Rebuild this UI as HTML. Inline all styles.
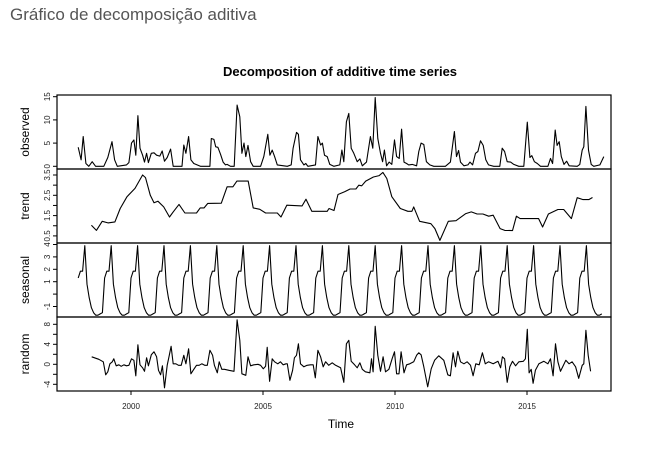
<!DOCTYPE html>
<html><head><meta charset="utf-8"><style>
body{margin:0;background:#fff;width:650px;height:456px;overflow:hidden}
.hdr{position:absolute;left:10px;top:5px;font-family:"Liberation Sans",sans-serif;font-size:17px;color:#555}
svg{position:absolute;left:0;top:0}
svg text{font-family:"Liberation Sans",sans-serif}
</style></head><body>
<div class="hdr">Gráfico de decomposição aditiva</div>
<svg id="chart" width="650" height="456"></svg>
<script>
const obsT=[1998.00,1998.11,1998.19,1998.29,1998.40,1998.53,1998.66,1998.97,1999.12,1999.28,1999.38,1999.48,1999.83,1999.92,2000.02,2000.11,2000.18,2000.26,2000.34,2000.44,2000.51,2000.59,2000.66,2000.77,2000.87,2000.97,2001.09,2001.18,2001.27,2001.37,2001.50,2001.60,2001.93,2002.00,2002.08,2002.18,2002.27,2002.38,2002.63,2002.99,2003.04,2003.14,2003.21,2003.29,2003.39,2003.49,2003.58,2003.64,2003.77,2003.91,2004.02,2004.12,2004.20,2004.28,2004.35,2004.43,2004.53,2004.63,2004.91,2005.03,2005.18,2005.26,2005.35,2005.44,2005.54,2005.92,2006.07,2006.14,2006.27,2006.34,2006.42,2006.55,2006.62,2006.70,2006.99,2007.08,2007.18,2007.25,2007.33,2007.43,2007.53,2007.68,2007.91,2007.99,2008.06,2008.16,2008.25,2008.34,2008.44,2008.57,2008.67,2008.76,2008.92,2009.07,2009.16,2009.25,2009.35,2009.45,2009.53,2009.60,2009.68,2009.78,2009.88,2009.98,2010.06,2010.16,2010.25,2010.34,2010.44,2010.52,2010.65,2010.82,2010.90,2010.99,2011.09,2011.19,2011.32,2011.47,2011.91,2012.10,2012.25,2012.33,2012.41,2012.48,2012.61,2012.76,2012.84,2012.94,2013.05,2013.14,2013.24,2013.34,2013.44,2013.54,2013.74,2013.97,2014.06,2014.15,2014.25,2014.38,2014.50,2014.69,2014.88,2015.01,2015.11,2015.18,2015.28,2015.39,2015.51,2015.79,2015.89,2015.97,2016.07,2016.14,2016.22,2016.30,2016.40,2016.50,2016.60,2016.90,2017.00,2017.09,2017.15,2017.23,2017.33,2017.43,2017.53,2017.76,2017.91];
const obsV=[4.1,1.4,6.4,0.6,0,1.0,0,0,1.9,5.3,1.4,0,0.3,0.8,5.0,5.7,2.4,10.9,3.9,2.4,0.9,2.8,0.8,2.8,2.9,2.4,2.2,3.3,1.1,1.9,3.7,0,0,4.6,2.8,6.4,1.4,0.6,0,0,6.0,5.8,4.2,4.1,2.6,0.9,0.3,0.4,0,0,13.2,10.7,2.8,5.0,2.1,4.5,1.0,0,0,2.1,6.9,2.4,3.5,2.1,0.3,0,0.3,3.9,7.3,6.9,1.4,0.3,0.6,0,0.3,6.4,4.6,5.0,2.4,2.1,0.4,0,0.3,3.5,1.0,9.6,11.4,3.9,2.8,1.0,1.6,0.1,0.9,6.4,3.9,14.8,6.0,2.8,1.0,3.5,0.1,0.9,0.4,5.7,2.1,1.7,8.0,0.9,0.6,0.3,0.4,0.1,3.2,5.0,4.7,1.0,0.3,0,0,0.9,7.5,2.1,3.4,0.9,0.1,0.3,0.9,0.3,2.8,3.2,5.5,4.5,1.4,0.3,0,0,3.9,3.2,1.0,0.9,0.4,0,0,9.5,1.9,2.3,1.0,0.6,0,0,1.7,0.6,7.8,4.5,5.3,2.1,0.4,1.1,0.1,0,0.4,3.5,4.2,12.9,3.5,0.4,0,0.3,2.1];
const trendT=[1998.50,1998.69,1998.91,1999.13,1999.39,1999.59,1999.85,2000.15,2000.44,2000.55,2000.73,2000.87,2001.02,2001.24,2001.46,2001.60,2001.82,2002.04,2002.48,2002.62,2002.77,2002.91,2003.42,2003.64,2003.86,2004.01,2004.44,2004.63,2004.88,2005.10,2005.54,2005.68,2005.90,2006.48,2006.63,2006.85,2007.43,2007.50,2007.69,2007.84,2008.09,2008.30,2008.52,2008.63,2008.74,2008.89,2009.18,2009.40,2009.54,2009.69,2009.88,2010.20,2010.49,2010.64,2010.71,2010.93,2011.36,2011.51,2011.70,2012.02,2012.31,2012.68,2012.89,2013.11,2013.33,2013.55,2013.72,2013.98,2014.16,2014.45,2014.60,2014.74,2015.44,2015.59,2015.81,2016.17,2016.39,2016.68,2016.90,2017.12,2017.34,2017.48];
const trendV=[1.02,0.77,1.22,1.14,1.19,1.85,2.43,2.84,3.5,3.37,2.5,2.13,2.21,1.93,1.43,1.68,2.05,1.63,1.63,1.88,1.88,2.1,2.11,2.92,2.92,3.2,3.2,1.88,1.81,1.63,1.63,1.43,2.01,1.98,2.31,1.71,1.71,1.85,1.75,2.54,2.67,2.81,2.81,3.0,2.97,3.2,3.4,3.47,3.63,3.33,2.43,1.85,1.71,1.71,1.93,1.22,1.1,0.86,0.28,1.22,1.25,1.6,1.68,1.58,1.58,1.47,1.52,0.86,0.77,0.76,1.47,1.35,1.35,0.94,1.58,1.8,1.8,1.35,2.38,2.29,2.29,2.39];
const seasonalPattern=[1.3,1.85,1.85,3.9,0.8,-0.3,-1.1,-1.5,-1.7,-1.7,-1.6,-1.5];
const seasonStart=1998, seasonMonths=239;
const randT=[1998.51,1998.78,1998.95,1999.04,1999.12,1999.20,1999.29,1999.35,1999.44,1999.54,1999.63,1999.73,1999.83,1999.92,2000.02,2000.11,2000.18,2000.26,2000.34,2000.44,2000.51,2000.59,2000.66,2000.77,2000.87,2000.97,2001.04,2001.12,2001.19,2001.27,2001.37,2001.45,2001.52,2001.60,2001.70,2001.80,2001.90,2002.00,2002.08,2002.18,2002.27,2002.38,2002.48,2002.58,2002.68,2002.79,2002.89,2002.99,2003.09,2003.16,2003.27,2003.34,2003.44,2003.54,2003.71,2003.90,2004.02,2004.12,2004.20,2004.35,2004.43,2004.53,2004.65,2004.81,2004.91,2005.01,2005.10,2005.16,2005.25,2005.35,2005.44,2005.56,2005.66,2005.76,2005.87,2005.92,2006.02,2006.12,2006.19,2006.27,2006.34,2006.42,2006.55,2006.67,2006.80,2006.90,2006.98,2007.08,2007.18,2007.28,2007.37,2007.49,2007.62,2007.75,2007.94,2008.06,2008.16,2008.25,2008.34,2008.47,2008.57,2008.67,2008.76,2008.88,2009.05,2009.11,2009.17,2009.25,2009.35,2009.45,2009.55,2009.64,2009.77,2009.89,2009.98,2010.06,2010.15,2010.23,2010.34,2010.44,2010.56,2010.71,2010.82,2010.90,2010.99,2011.09,2011.24,2011.37,2011.50,2011.66,2011.85,2012.00,2012.10,2012.20,2012.29,2012.38,2012.48,2012.61,2012.73,2012.86,2012.96,2013.06,2013.19,2013.31,2013.42,2013.54,2013.72,2013.90,2014.00,2014.07,2014.15,2014.25,2014.35,2014.45,2014.57,2014.69,2014.86,2014.94,2015.01,2015.08,2015.16,2015.23,2015.32,2015.45,2015.64,2015.79,2015.89,2015.99,2016.08,2016.17,2016.27,2016.37,2016.47,2016.59,2016.71,2016.84,2016.96,2017.09,2017.15,2017.23,2017.32,2017.41];
const randV=[1.5,1.0,0.5,-2.1,-1.5,0.1,0.5,1.1,-0.3,-0.1,-0.4,-0.1,-0.3,-0.2,1.1,0.8,-2.3,3.9,-0.1,-0.7,-1.4,1.3,-0.3,1.9,2.5,1.5,-1.2,-2.1,-0.3,-4.7,-0.2,1.8,3.6,0.1,0.1,-0.2,-0.2,1.8,0.1,3.1,-1.9,-1.0,-0.2,-0.2,0.1,-0.2,-0.2,2.8,1.8,-0.2,-1.7,0.5,-1.0,-1.0,-1.2,-1.4,8.9,4.8,-1.9,-2.2,1.5,-0.3,-0.1,0,-0.2,-0.9,-0.4,3.4,-3.4,1.1,0.5,0.1,0.5,-0.1,0.1,0.1,-3.2,-1.2,1.3,1.8,4.1,0.1,-0.5,-0.2,-0.1,-0.1,-2.7,2.8,1.5,-0.5,0.5,-0.2,0.3,-0.2,-0.7,-3.6,4.1,4.8,0.6,-0.1,-0.7,0.3,-1.0,-1.5,-1.7,1.1,-1.5,7.6,1.8,-1.4,1.5,-1.5,-1.0,1.1,2.5,-1.9,-1.9,2.5,-1.7,-0.1,0.1,0.5,1.8,2.3,1.9,-0.5,-4.5,-0.9,0.8,1.7,0.8,-2.1,-2.3,2.3,-0.5,2.6,0.5,0.1,0.5,-0.2,-2.3,0.1,-0.1,2.3,0.1,0.5,0.1,0.6,-0.7,1.5,1.1,-3.6,-0.5,0.6,-0.3,0.5,0.6,1.1,7.0,-1.7,-1.0,-3.8,-1.2,0.1,0.6,0.1,1.1,-2.3,4.1,0.5,-1.4,-0.3,0.8,0.1,0.5,-0.5,-2.8,-0.2,0.1,6.8,1.8,-1.4];
const xTicks=[2000,2005,2010,2015];

const NS='http://www.w3.org/2000/svg';
const svg=document.getElementById('chart');
const L=57,R=611;
const xs=t=>131+(t-2000)*26.4;
function mk(tag,attrs,parent){const e=document.createElementNS(NS,tag);for(const k in attrs)e.setAttribute(k,attrs[k]);(parent||svg).appendChild(e);return e;}
const panels=[
 {name:'observed',top:95,bot:169,y0:0,py0:166.3,scale:4.64,ticks:[0,5,10,15],labels:['0','5','10','15']},
 {name:'trend',top:169,bot:243,y0:3.5,py0:175,scale:20.3,ticks:[0.5,1,1.5,2,2.5,3,3.5],labels:['0.5','','1.5','','2.5','','3.5']},
 {name:'seasonal',top:243,bot:317,y0:1,py0:281.7,scale:12.4,ticks:[-1,0,1,2,3,4],labels:['-1','','1','2','3','4']},
 {name:'random',top:317,bot:391,y0:0,py0:364.3,scale:5.0,ticks:[-4,-2,0,2,4,6,8],labels:['-4','','0','','4','','8']}
];
panels.forEach(p=>{p.ys=v=>p.py0-(v-p.y0)*p.scale;});
function line(p,T,V,nm){
  let d='';T.forEach((t,i)=>{d+=(i?'L':'M')+xs(t).toFixed(1)+' '+p.ys(V[i]).toFixed(1);});
  const e=mk('path',{d:d,fill:'none',stroke:'#000','stroke-width':1.1,'stroke-linejoin':'round'});
  
  
}
panels.forEach(p=>{
  const f=mk('rect',{x:L,y:p.top,width:R-L,height:p.bot-p.top,fill:'none',stroke:'#000','stroke-width':1.2});
  
  
  p.ticks.forEach((v,i)=>{
    const y=p.ys(v);
    const tk=mk('line',{x1:L-4,x2:L,y1:y,y2:y,stroke:'#000','stroke-width':1});
    
    
    if(p.labels[i]){
      const tx=mk('text',{x:0,y:0,'font-size':8,'text-anchor':'middle',transform:`translate(${L-7},${y}) rotate(-90)`,fill:'#222'});
      tx.textContent=p.labels[i];
      
      
    }
  });
  const ttl=mk('text',{x:0,y:0,'font-size':12,'text-anchor':'middle',transform:`translate(${29},${(p.top+p.bot)/2}) rotate(-90)`});
  ttl.textContent=p.name;
  
  
});
line(panels[0],obsT,obsV,'observed-line');
line(panels[1],trendT,trendV,'trend-line');
const sT=[],sV=[];
for(let m=0;m<seasonMonths;m++){sT.push(seasonStart+m/12);sV.push(seasonalPattern[m%12]);}
line(panels[2],sT,sV,'seasonal-line');
line(panels[3],randT,randV,'random-line');
xTicks.forEach(t=>{
  const x=xs(t);
  const tk=mk('line',{x1:x,x2:x,y1:391,y2:395,stroke:'#000'});
  
  
  const tx=mk('text',{x:x,y:409,'font-size':8,'text-anchor':'middle',fill:'#222'});
  tx.textContent=t;
  
  
});
const xt=mk('text',{x:341,y:428,'font-size':12,'text-anchor':'middle'});
xt.textContent='Time';


const ct=mk('text',{x:340,y:76,'font-size':13,'font-weight':'bold','text-anchor':'middle'});
ct.textContent='Decomposition of additive time series';


</script>
</body></html>
